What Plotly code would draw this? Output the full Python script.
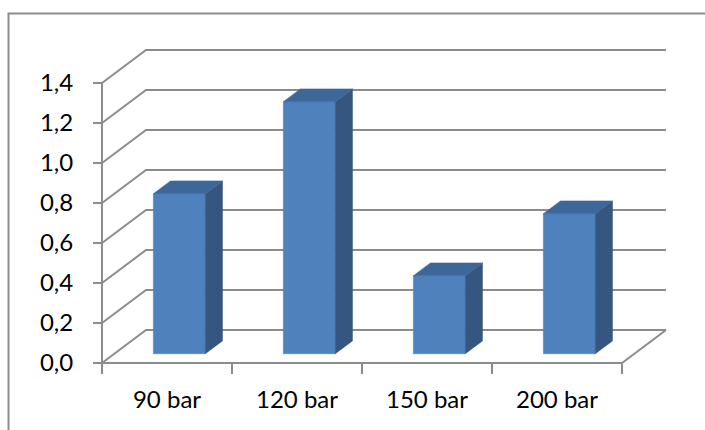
import plotly.graph_objects as go

# Data
categories = ["90 bar", "120 bar", "150 bar", "200 bar"]
values = [0.80, 1.26, 0.39, 0.70]
y_ticks = [0.0, 0.2, 0.4, 0.6, 0.8, 1.0, 1.2, 1.4]

# Figure / projection geometry
W, H = 705, 430
PX_LEFT, PX_RIGHT = 102, 622        # front x-axis ends (pixels)
PY_ZERO, PY_TOP = 363, 83           # front value axis 0 and 1.4 (pixels)
n = len(categories)
sx = (PX_RIGHT - PX_LEFT) / n       # pixels per category
sy = (PY_ZERO - PY_TOP) / y_ticks[-1]  # pixels per value unit
DX = 44 / sx                        # depth offset in category units
DY = 33 / sy                        # depth offset in value units

GRID = "#8C8C8C"
FRONT = "#4F81BD"
TOP = "#3D6699"
SIDE = "#34567F"


def proj(x, y, d):
    return x + d * DX, y + d * DY


fig = go.Figure()

# Walls: left-wall diagonals + back-wall gridlines, floor outline, value axis
gx, gy = [], []
for v in y_ticks:
    for (x, y, d) in [(0, v, 0), (0, v, 1), (n, v, 1)]:
        px, py = proj(x, y, d)
        gx.append(px)
        gy.append(py)
    gx.append(None)
    gy.append(None)
for (x, y, d) in [(n, 0, 1), (n, 0, 0), (0, 0, 0)]:
    px, py = proj(x, y, d)
    gx.append(px)
    gy.append(py)
gx.append(None)
gy.append(None)
gx += [0, 0]
gy += [0, y_ticks[-1]]
fig.add_trace(go.Scatter(x=gx, y=gy, mode="lines",
                         line=dict(color=GRID, width=2),
                         hoverinfo="skip"))

# 3D columns
D0, D1 = 0.28, 0.67
for i, v in enumerate(values):
    x0, x1 = i + 0.3, i + 0.7
    faces = [
        ([(x0, 0, D0), (x1, 0, D0), (x1, v, D0), (x0, v, D0)], FRONT),
        ([(x1, 0, D0), (x1, 0, D1), (x1, v, D1), (x1, v, D0)], SIDE),
        ([(x0, v, D0), (x1, v, D0), (x1, v, D1), (x0, v, D1)], TOP),
    ]
    for pts, col in faces:
        xs, ys = zip(*[proj(*p) for p in pts])
        fig.add_trace(go.Scatter(
            x=list(xs) + [xs[0]], y=list(ys) + [ys[0]],
            mode="lines", fill="toself", fillcolor=col,
            line=dict(color=col, width=0.5),
            hoverinfo="skip"))

x_range = [-PX_LEFT / sx, (W - PX_LEFT) / sx]
y_range = [(PY_ZERO - H) / sy, PY_ZERO / sy]

fig.update_layout(
    width=W, height=H,
    margin=dict(l=0, r=0, t=0, b=0),
    paper_bgcolor="white", plot_bgcolor="white",
    showlegend=False,
    separators=",.",
    font=dict(family="Lato, Open Sans, sans-serif", size=24, color="#000000"),
    xaxis=dict(
        range=x_range, domain=[0, 1],
        anchor="free", position=(H - PY_ZERO) / H,
        tickvals=[i + 0.5 for i in range(n)], ticktext=categories,
        ticks="", ticklabelstandoff=20,
        minor=dict(tickvals=list(range(n + 1)), ticks="outside",
                   ticklen=10, tickwidth=2, tickcolor=GRID, showgrid=False),
        showgrid=False, zeroline=False, showline=False, fixedrange=True,
    ),
    yaxis=dict(
        range=y_range, domain=[0, 1],
        anchor="free", position=PX_LEFT / W,
        tickvals=y_ticks, tickformat=".1f",
        ticks="outside", ticklen=9, tickwidth=2, tickcolor=GRID,
        ticklabelstandoff=15,
        showgrid=False, zeroline=False, showline=False, fixedrange=True,
    ),
    shapes=[dict(type="rect", xref="paper", yref="paper",
                 x0=8.5 / W, x1=1.05, y0=-0.05, y1=(H - 13.5) / H,
                 line=dict(color=GRID, width=2), layer="below")],
)

fig.write_html("out.html", config={"displayModeBar": False})
